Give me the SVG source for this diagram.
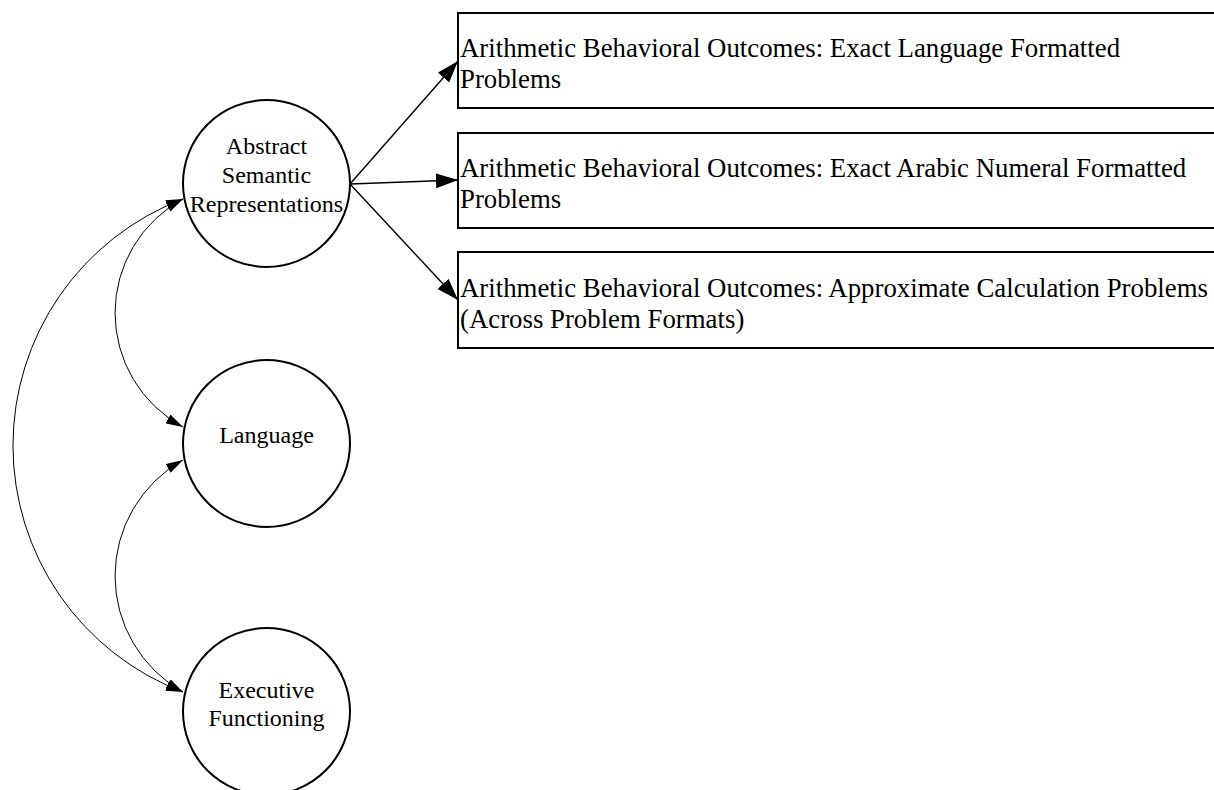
<svg xmlns="http://www.w3.org/2000/svg" width="1214" height="790" viewBox="0 0 1214 790">
<style>
  .node { fill: #ffffff; stroke: #000000; stroke-width: 2; }
  .lbl { font-family: "Liberation Serif", "Times New Roman", serif; font-size: 24px; fill: #000000; }
  .box { font-size: 26.8px; }
  .mid { text-anchor: middle; }
  .path { fill: none; stroke: #000000; stroke-width: 1.4; }
  .cov { fill: none; stroke: #000000; stroke-width: 1; }
</style>
<defs>
  <marker id="bigArrow" markerUnits="userSpaceOnUse" markerWidth="23" markerHeight="16" refX="22" refY="7.5" orient="auto">
    <path d="M0,0 L22,7.5 L0,15 z" fill="#000000"/>
  </marker>
  <marker id="smallArrow" markerUnits="userSpaceOnUse" markerWidth="18" markerHeight="11" refX="17" refY="5" orient="auto-start-reverse">
    <path d="M0,0 L17,5 L0,10 z" fill="#000000"/>
  </marker>
</defs>
<rect width="1214" height="790" fill="#ffffff"/>
<g id="connectors">
  <line class="path" x1="350" y1="184" x2="458" y2="61" marker-end="url(#bigArrow)"/>
  <line class="path" x1="350" y1="184" x2="458" y2="180" marker-end="url(#bigArrow)"/>
  <line class="path" x1="350" y1="184" x2="458" y2="300" marker-end="url(#bigArrow)"/>
  <path class="cov" d="M183,199 A129.6,129.6 0 0 0 183,427" marker-start="url(#smallArrow)" marker-end="url(#smallArrow)"/>
  <path class="cov" d="M183,460 A133,133 0 0 0 183,692" marker-start="url(#smallArrow)" marker-end="url(#smallArrow)"/>
  <path class="cov" d="M183,199 A263.7,263.7 0 0 0 183,692" marker-start="url(#smallArrow)" marker-end="url(#smallArrow)"/>
</g>
<g id="node-asr">
  <circle class="node" cx="266.5" cy="183.5" r="83.5"/>
  <text class="lbl mid" x="266.5" y="154">Abstract</text>
  <text class="lbl mid" x="266.5" y="183">Semantic</text>
  <text class="lbl mid" x="266.5" y="212">Representations</text>
</g>
<g id="node-language">
  <circle class="node" cx="266.5" cy="443.5" r="83.5"/>
  <text class="lbl mid" x="266.5" y="443">Language</text>
</g>
<g id="node-executive">
  <circle class="node" cx="266.5" cy="711.5" r="83.5"/>
  <text class="lbl mid" x="266.5" y="698">Executive</text>
  <text class="lbl mid" x="266.5" y="726">Functioning</text>
</g>
<g id="node-outcome-language">
  <rect class="node" x="458" y="13" width="770" height="95"/>
  <text class="lbl box" x="460" y="57">Arithmetic Behavioral Outcomes: Exact Language Formatted</text>
  <text class="lbl box" x="460" y="88">Problems</text>
</g>
<g id="node-outcome-arabic">
  <rect class="node" x="458" y="133" width="770" height="95"/>
  <text class="lbl box" x="460" y="177">Arithmetic Behavioral Outcomes: Exact Arabic Numeral Formatted</text>
  <text class="lbl box" x="460" y="208">Problems</text>
</g>
<g id="node-outcome-approx">
  <rect class="node" x="458" y="252" width="770" height="96"/>
  <text class="lbl box" x="460" y="297">Arithmetic Behavioral Outcomes: Approximate Calculation Problems</text>
  <text class="lbl box" x="460" y="328">(Across Problem Formats)</text>
</g>
</svg>
